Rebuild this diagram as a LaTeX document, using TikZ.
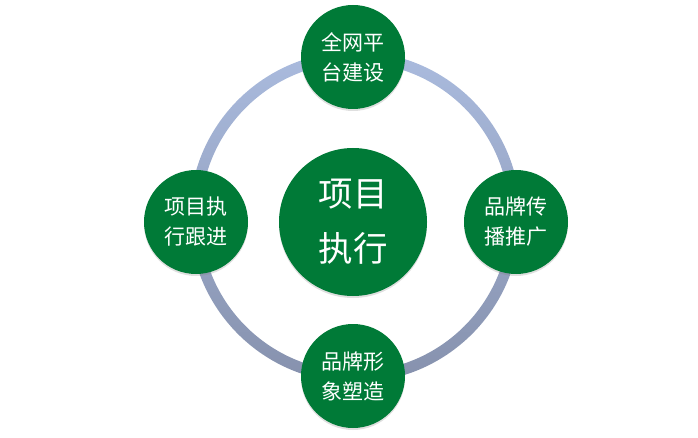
\documentclass[tikz,border=0pt]{standalone}
\usepackage{fontspec}
\newfontfamily\cjk{Noto Sans CJK SC}
\usetikzlibrary{shadows}
\definecolor{projgreen}{HTML}{007A37}
\definecolor{ringtop}{HTML}{AABBDE}
\definecolor{ringbot}{HTML}{8691AD}
\def\ringr{160}
\tikzset{
   bignode/.style={circle, fill=projgreen, minimum size=148pt, inner sep=0pt, align=center,
      text=white, font=\cjk\fontsize{34.5}{55}\selectfont,
      drop shadow={opacity=0.25, shadow xshift=0pt, shadow yshift=-2pt}},
   subnode/.style={circle, fill=projgreen, minimum size=104pt, inner sep=0pt, align=center,
      text=white, font=\cjk\fontsize{21}{30}\selectfont,
      drop shadow={opacity=0.25, shadow xshift=0pt, shadow yshift=-2pt}}
}

\begin{document}
\begin{tikzpicture}[x=1pt, y=-1pt]
\useasboundingbox (0,0) rectangle (698,438);
\coordinate (o) at (355,217);
% ring
\shade[even odd rule, top color=ringtop, bottom color=ringbot]
   (o) circle [radius=\ringr+5.5] (o) circle [radius=\ringr-5.5];
% centre
\node[bignode] (exec) at (353,222) {项目\\执行};
% nodes on the ring
\node[subnode] (web)   at (353,57)  {全网平\\台建设};
\node[subnode] (brand) at (516,222) {品牌传\\播推广};
\node[subnode] (image) at (353,376) {品牌形\\象塑造};
\node[subnode] (track) at (196,222) {项目执\\行跟进};
\end{tikzpicture}
\end{document}
